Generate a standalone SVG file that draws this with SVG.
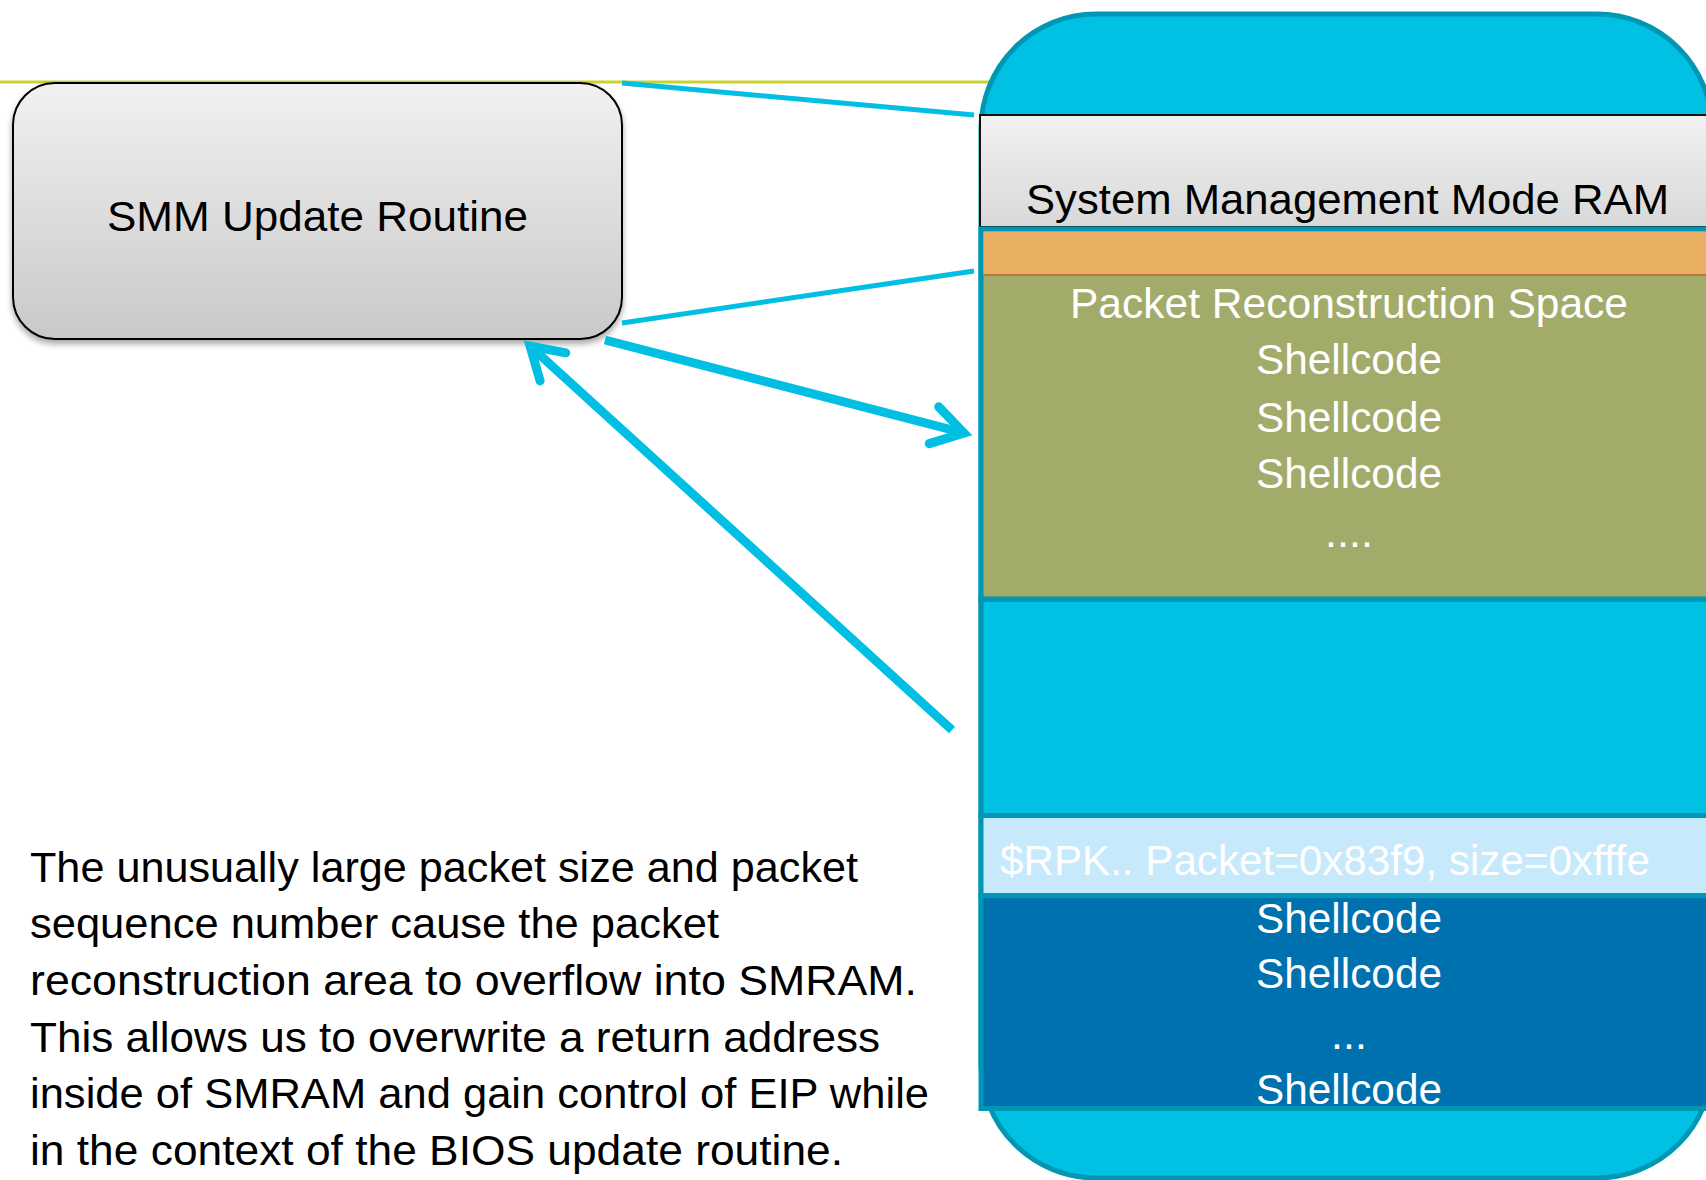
<svg xmlns="http://www.w3.org/2000/svg" width="1706" height="1180" viewBox="0 0 1706 1180">
  <defs>
    <linearGradient id="grayFill" x1="0" y1="0" x2="0" y2="1">
      <stop offset="0" stop-color="#F1F1F1"/>
      <stop offset="1" stop-color="#C9C9C9"/>
    </linearGradient>
    <linearGradient id="bandFill" x1="0" y1="0" x2="0" y2="1">
      <stop offset="0" stop-color="#F2F2F2"/>
      <stop offset="1" stop-color="#D8D8D8"/>
    </linearGradient>
    <filter id="shadow" x="-10%" y="-10%" width="120%" height="130%">
      <feDropShadow dx="0" dy="4" stdDeviation="3" flood-color="#000" flood-opacity="0.35"/>
    </filter>
    <marker id="chevron" markerUnits="userSpaceOnUse" orient="auto" refX="0" refY="0" overflow="visible">
      <path d="M -31 -19 L 0 0 L -31 19" fill="none" stroke="#00BFE3" stroke-width="9" stroke-linecap="round" stroke-linejoin="miter"/>
    </marker>
    <style>
      .lbl { font-family: "Liberation Sans", Arial, sans-serif; font-size: 43px; }
      .dark { fill: #000000; }
      .light { fill: #FFFFFF; }
      .band { stroke: #0097B4; stroke-width: 5; }
      .thin { stroke: #00BFE3; stroke-width: 5; fill: none; }
      .thick { stroke: #00BFE3; stroke-width: 9; fill: none; marker-end: url(#chevron); }
    </style>
  </defs>

  <rect width="1706" height="1180" fill="#FFFFFF"/>

  <!-- slide rule line -->
  <line x1="0" y1="82" x2="1000" y2="82" stroke="#CBD22E" stroke-width="3"/>

  <!-- SMRAM container -->
  <g id="smram">
    <rect x="981" y="14" width="731" height="1164" rx="115" ry="115" fill="#00C0E3" stroke="#0097B4" stroke-width="5"/>
    <rect x="980" y="115" width="740" height="112" fill="url(#bandFill)" stroke="#111111" stroke-width="2"/>
    <text class="lbl dark" x="1026" y="214" textLength="643" lengthAdjust="spacingAndGlyphs">System Management Mode RAM</text>
  </g>

  <!-- packet reconstruction buffer -->
  <g id="reconstruction">
    <rect x="981" y="229" width="740" height="370" fill="#A3AB6B" class="band"/>
    <rect x="983.5" y="231.5" width="740" height="43" fill="#E9AF62"/>
    <line x1="983.5" y1="275" x2="1720" y2="275" stroke="#B87A32" stroke-width="2"/>
    <text class="lbl light" x="1070" y="318" textLength="558" lengthAdjust="spacingAndGlyphs">Packet Reconstruction Space</text>
    <text class="lbl light" x="1256" y="374" textLength="186" lengthAdjust="spacingAndGlyphs">Shellcode</text>
    <text class="lbl light" x="1256" y="432" textLength="186" lengthAdjust="spacingAndGlyphs">Shellcode</text>
    <text class="lbl light" x="1256" y="488" textLength="186" lengthAdjust="spacingAndGlyphs">Shellcode</text>
    <text class="lbl light" x="1349" y="547" text-anchor="middle">....</text>
  </g>

  <!-- free space between buffer and SMRAM data -->
  <g id="gap">
    <rect x="981" y="599.5" width="740" height="216" fill="#00C0E3" class="band"/>
  </g>

  <!-- forged packet header -->
  <g id="packet-header">
    <rect x="981" y="815.5" width="740" height="80" fill="#C6E9FC" class="band"/>
    <text class="lbl light" x="1000" y="875" textLength="650" lengthAdjust="spacingAndGlyphs">$RPK.. Packet=0x83f9, size=0xfffe</text>
  </g>

  <!-- overflow payload -->
  <g id="overflow">
    <rect x="981" y="895.5" width="740" height="213" fill="#0071AF" class="band"/>
    <text class="lbl light" x="1256" y="933" textLength="186" lengthAdjust="spacingAndGlyphs">Shellcode</text>
    <text class="lbl light" x="1256" y="988" textLength="186" lengthAdjust="spacingAndGlyphs">Shellcode</text>
    <text class="lbl light" x="1349" y="1049" text-anchor="middle">...</text>
    <text class="lbl light" x="1256" y="1104" textLength="186" lengthAdjust="spacingAndGlyphs">Shellcode</text>
  </g>

  <!-- update routine -->
  <g id="smm-update">
    <rect x="13" y="83" width="609" height="256" rx="42" ry="42" fill="url(#grayFill)" stroke="#000000" stroke-width="2" filter="url(#shadow)"/>
    <text class="lbl dark" x="107" y="231" textLength="421" lengthAdjust="spacingAndGlyphs">SMM Update Routine</text>
  </g>

  <!-- connectors -->
  <g id="connectors">
    <line class="thin" x1="622" y1="83" x2="974" y2="115"/>
    <line class="thin" x1="622" y1="323" x2="974" y2="271"/>
    <line class="thick" x1="605" y1="340" x2="964" y2="433"/>
    <line class="thick" x1="952" y1="730" x2="530" y2="346"/>
  </g>

  <!-- explanation -->
  <g id="note">
    <text class="lbl dark" x="30" y="882" textLength="828" lengthAdjust="spacingAndGlyphs">The unusually large packet size and packet</text>
    <text class="lbl dark" x="30" y="938" textLength="689" lengthAdjust="spacingAndGlyphs">sequence number cause the packet</text>
    <text class="lbl dark" x="30" y="995" textLength="887" lengthAdjust="spacingAndGlyphs">reconstruction area to overflow into SMRAM.</text>
    <text class="lbl dark" x="30" y="1052" textLength="850" lengthAdjust="spacingAndGlyphs">This allows us to overwrite a return address</text>
    <text class="lbl dark" x="30" y="1108" textLength="899" lengthAdjust="spacingAndGlyphs">inside of SMRAM and gain control of EIP while</text>
    <text class="lbl dark" x="30" y="1165" textLength="813" lengthAdjust="spacingAndGlyphs">in the context of the BIOS update routine.</text>
  </g>
</svg>
